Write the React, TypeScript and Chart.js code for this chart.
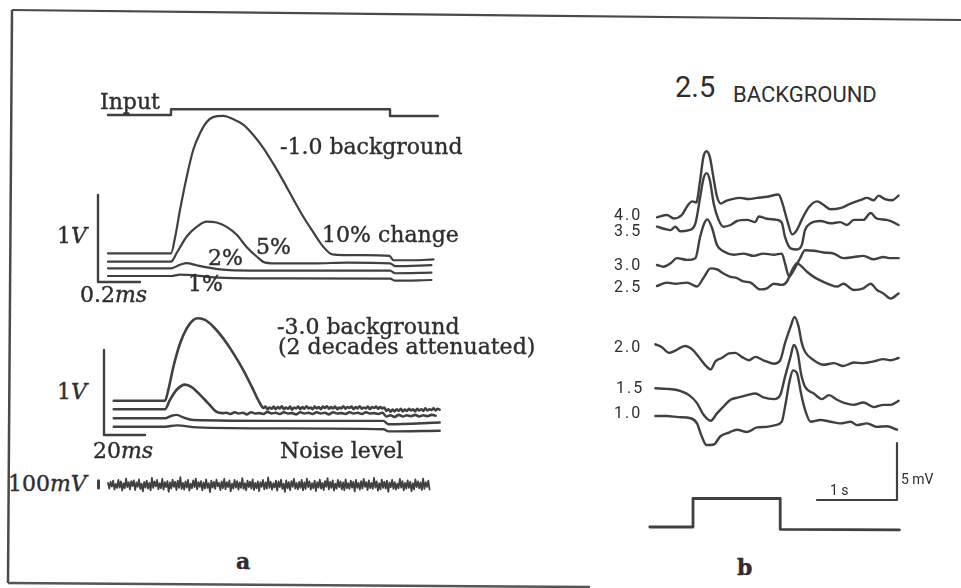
import React, { useEffect, useRef } from "react";
import { Chart, registerables } from "chart.js";
Chart.register(...registerables);

type Pt = [number, number];

// ---------------- Panel a, top: "-1.0 background" (time ms, response V) -------------
const A1_INPUT: Pt[] = [[-0.3, 0], [0, 0], [0, 0.066], [1.043, 0.066], [1.043, -0.011], [1.27, -0.011]];
const A1_T10: Pt[] = [[-0.3, 0], [0, 0], [0.02, 0.19], [0.043, 0.5], [0.075, 0.88], [0.106, 1.19], [0.138, 1.38], [0.17, 1.51], [0.2, 1.565], [0.25, 1.58], [0.297, 1.54], [0.344, 1.48], [0.392, 1.36], [0.44, 1.21], [0.487, 1.03], [0.535, 0.83], [0.583, 0.62], [0.63, 0.42], [0.678, 0.24], [0.717, 0.1], [0.757, 0.0], [0.78, -0.015], [0.84, -0.02], [0.92, -0.02], [1.04, -0.03], [1.06, -0.08], [1.15, -0.08], [1.25, -0.07]];
const A1_T5: Pt[] = [[-0.3, 0], [0, 0], [0.027, 0.1], [0.075, 0.29], [0.122, 0.4], [0.17, 0.46], [0.217, 0.45], [0.265, 0.4], [0.313, 0.31], [0.36, 0.17], [0.408, 0.06], [0.448, -0.01], [0.52, -0.02], [0.68, -0.02], [0.84, -0.01], [1.043, -0.02], [1.067, -0.05], [1.24, -0.04]];
const A1_T2: Pt[] = [[-0.3, 0], [0, 0], [0.043, 0.04], [0.075, 0.06], [0.122, 0.035], [0.2, 0], [0.28, -0.02], [0.52, -0.027], [0.84, -0.027], [1.043, -0.027], [1.067, -0.057], [1.24, -0.05]];
const A1_T1: Pt[] = [[-0.3, 0], [0, 0], [0.043, 0.015], [0.106, 0.011], [0.2, -0.015], [0.52, -0.027], [1.043, -0.03], [1.067, -0.054], [1.24, -0.046]];
const A1_BAR_MS = 0.2;
const A1_BAR_V = 1;

// ---------------- Panel a, bottom: "-3.0 background" (time ms, response V) -------------
const A3_T1: Pt[] = [[-25, 0], [0, 0], [1.6, 0.125], [4.1, 0.4], [7.3, 0.67], [10.6, 0.85], [13.8, 0.95], [16.3, 0.97], [19.5, 0.95], [23.6, 0.87], [28.5, 0.73], [33.3, 0.56], [38.2, 0.36], [42.3, 0.165], [46.3, -0.03], [48, -0.085]];
// noisy tail of the largest response, sampled every 1 ms from 49 ms
const A3_T1_TAIL_T0 = 49;
const A3_T1_TAIL_DT = 1;
const A3_T1_TAIL_V = [-0.07, -0.1, -0.08, -0.095, -0.07, -0.1, -0.075, -0.09, -0.065, -0.1, -0.08, -0.095, -0.07, -0.105, -0.08, -0.09, -0.07, -0.1, -0.075, -0.095, -0.065, -0.09, -0.08, -0.1, -0.07, -0.09, -0.075, -0.1, -0.07, -0.085, -0.065, -0.095, -0.075, -0.09, -0.07, -0.1, -0.08, -0.09, -0.065, -0.095, -0.075, -0.085, -0.07, -0.1, -0.075, -0.09, -0.065, -0.095, -0.08, -0.09, -0.07, -0.1, -0.075, -0.085, -0.07, -0.095, -0.075, -0.09, -0.08, -0.12, -0.1, -0.13, -0.105, -0.125, -0.1, -0.12, -0.095, -0.125, -0.105, -0.12, -0.095, -0.115, -0.1, -0.125, -0.095, -0.115, -0.1, -0.12, -0.09, -0.115, -0.1, -0.11, -0.09, -0.115, -0.095, -0.105];
const A3_T2: Pt[] = [[-25, 0], [0, 0], [2.4, 0.11], [5.7, 0.23], [9.8, 0.29], [13, 0.26], [17.1, 0.17], [21.1, 0.07], [25.2, -0.03], [28, -0.045]];
// noisy tail of the second response, sampled every 2 ms from 30 ms
const A3_T2_TAIL_T0 = 30;
const A3_T2_TAIL_DT = 2;
const A3_T2_TAIL_V = [-0.04, -0.055, -0.035, -0.05, -0.04, -0.06, -0.035, -0.05, -0.045, -0.055, -0.03, -0.05, -0.04, -0.055, -0.035, -0.05, -0.045, -0.06, -0.035, -0.05, -0.04, -0.055, -0.035, -0.05, -0.04, -0.06, -0.035, -0.05, -0.045, -0.055, -0.035, -0.05, -0.04, -0.055, -0.035, -0.05, -0.045, -0.055, -0.04, -0.085, -0.07, -0.09, -0.065, -0.085, -0.07, -0.08, -0.065, -0.085, -0.07, -0.08, -0.065, -0.075];
const A3_T3: Pt[] = [[-25, 0], [0, 0], [3.25, 0.03], [5.7, 0.04], [8.9, 0.01], [13.8, -0.02], [56, -0.03], [106.5, -0.03], [109, -0.07], [134, -0.05]];
const A3_T4: Pt[] = [[-25, 0], [0, 0], [5.7, 0.016], [15.4, -0.008], [56, -0.02], [106.5, -0.03], [109, -0.055], [134, -0.047]];
const A3_BAR_MS = 20;
const A3_BAR_V = 1;

// ---------------- Panel a: noise level (sampled every NOISE_DT_MS, values in mV) -------------
const NOISE_DT_MS = 0.63;
const NOISE_MV = [
  30, -50, 45, -20, 60, -65, 15, -40, 70, -35, 50, -80, 25, -45, 90, -30, 40, -60, 55, -15,
  65, -70, 35, -25, 80, -55, 20, -90, 45, -35, 60, -50, 30, -75, 100, -40, 50, -20, 70, -60,
  25, -45, 85, -65, 40, -30, 55, -95, 35, -50, 75, -25, 45, -70, 60, -40, 110, -55, 30, -65,
  50, -35, 70, -80, 20, -45, 65, -30, 90, -60, 40, -25, 55, -75, 35, -50, 80, -40, 25, -100,
  60, -35, 45, -55, 75, -20, 30, -70, 50, -45, 85, -60, 40, -30, 65, -90, 20, -50, 70, -35,
  55, -65, 35, -40, 95, -55, 25, -75, 60, -30, 45, -50, 80, -70, 30, -45, 50, -85, 40, -25,
  70, -60, 35, -50, 105, -40, 45, -65, 25, -35, 60, -80, 50, -30, 75, -55, 20, -95, 65, -45,
  40, -70, 55, -25, 85, -50, 30, -60, 45, -40, 70, -75, 35, -55, 90, -30, 50, -65, 25, -45,
  60, -85, 40, -35, 75, -50, 30, -70, 55, -25, 95, -60, 45, -40, 65, -80, 20, -50, 70, -30,
  50, -60, 35, -75, 80, -45, 25, -55, 60, -35, 45, -90, 70, -40, 30, -65, 55, -50, 85, -25,
  40, -70, 65, -45, 30, -55, 100, -35, 50, -80, 25, -60, 75, -40, 45, -50, 60, -95, 35, -30,
  70, -55, 40, -65, 20, -45, 85, -35, 55, -75, 30, -50, 65, -40, 45, -85, 25, -60, 80, -30,
  50, -45, 35, -70, 90, -55, 40, -25, 60, -65,
];
const NOISE_BAR_MV = 100;

// ---------------- Panel b: "2.5 background" (time s, response mV) -------------
const B_40: Pt[] = [[0, 0], [0.125, 0.2], [0.21, -0.1], [0.31, 0.2], [0.38, 1.0], [0.44, 1.4], [0.49, 1.3], [0.54, 3.3], [0.58, 5.3], [0.62, 5.8], [0.66, 5.3], [0.71, 3.3], [0.75, 1.8], [0.8, 1.2], [0.85, 1.4], [0.94, 1.6], [1.04, 1.7], [1.15, 1.6], [1.25, 1.7], [1.375, 1.8], [1.52, 2.0], [1.56, 1.4], [1.625, -0.2], [1.69, -1.5], [1.75, -1.1], [1.81, -0.2], [1.9, 0.9], [2.0, 1.4], [2.08, 1.1], [2.17, 0.7], [2.29, 0.8], [2.42, 1.2], [2.54, 1.5], [2.625, 1.7], [2.71, 1.5], [2.77, 1.9], [2.85, 1.6], [2.94, 1.5], [3.02, 1.9]];
const B_35: Pt[] = [[0, 0], [0.1, -0.2], [0.17, -0.3], [0.23, 0], [0.29, -0.4], [0.4, -0.3], [0.48, 0.3], [0.54, 2.6], [0.58, 4.2], [0.62, 4.7], [0.66, 4.1], [0.71, 2.0], [0.77, 0.6], [0.83, 0], [0.92, 0.15], [1.0, 0.5], [1.125, 0.6], [1.23, 0.4], [1.27, 0.9], [1.375, 0.7], [1.5, 0.6], [1.56, 0.35], [1.6, -0.9], [1.67, -1.9], [1.75, -2.0], [1.81, -1.6], [1.85, -0.3], [1.92, 0.3], [2.04, 0.5], [2.17, 0.3], [2.29, 0.4], [2.375, 0.15], [2.46, 0.6], [2.58, 0.6], [2.67, 1.2], [2.75, 0.7], [2.875, 0.6], [3.02, 0.15]];
const B_30: Pt[] = [[0, 0], [0.08, -0.15], [0.17, 0.15], [0.25, 0.6], [0.375, 0.45], [0.48, 0.6], [0.54, 2.5], [0.59, 3.65], [0.63, 4.0], [0.69, 3.2], [0.75, 1.75], [0.83, 1.2], [0.96, 0.9], [1.08, 1.0], [1.21, 0.8], [1.33, 1.0], [1.46, 0.9], [1.56, 1.0], [1.6, 0.15], [1.65, -1.0], [1.71, -0.45], [1.79, 0.6], [1.85, 1.3], [1.96, 1.25], [2.08, 1.1], [2.21, 1.0], [2.33, 0.6], [2.46, 0.7], [2.58, 0.8], [2.71, 0.5], [2.83, 0.7], [2.92, 0.6], [3.02, 0.6]];
const B_25: Pt[] = [[0, 0], [0.125, 0.3], [0.23, 0.2], [0.375, 0.3], [0.5, -0.05], [0.58, 0.7], [0.67, 1.55], [0.75, 1.45], [0.83, 1.1], [0.92, 0.8], [1.0, 0.7], [1.08, 0.4], [1.17, 0.3], [1.29, -0.3], [1.375, -0.2], [1.46, 0.2], [1.56, 0.1], [1.625, 0.4], [1.69, 1.4], [1.75, 2.0], [1.81, 1.7], [1.875, 1.25], [1.96, 0.8], [2.04, 0.5], [2.17, 0.1], [2.25, -0.05], [2.33, 0.2], [2.46, -0.35], [2.58, -0.2], [2.67, 0.2], [2.75, -0.35], [2.83, -0.65], [2.92, -1.1], [3.02, -0.65]];
const B_20: Pt[] = [[-0.02, 0], [0.06, -0.25], [0.15, -0.75], [0.23, -0.55], [0.35, -0.15], [0.44, -0.45], [0.52, -1.1], [0.6, -1.8], [0.67, -2.2], [0.73, -1.5], [0.81, -1.2], [0.9, -0.8], [0.98, -0.75], [1.06, -1.1], [1.15, -1.4], [1.23, -1.1], [1.33, -1.4], [1.46, -1.7], [1.54, -1.4], [1.6, 0.1], [1.67, 1.55], [1.72, 2.4], [1.77, 1.55], [1.81, 0.1], [1.85, -0.65], [1.96, -1.4], [2.08, -1.8], [2.21, -1.65], [2.33, -1.9], [2.46, -1.6], [2.58, -1.65], [2.71, -1.5], [2.83, -1.3], [2.92, -1.4], [3.02, -1.2]];
const B_15: Pt[] = [[-0.02, 0], [0.125, -0.05], [0.25, -0.15], [0.4, -0.6], [0.5, -1.3], [0.58, -2.3], [0.67, -2.85], [0.75, -2.2], [0.83, -1.6], [0.92, -1.0], [1.02, -0.8], [1.125, -0.6], [1.23, -0.45], [1.33, -0.8], [1.46, -0.95], [1.54, -0.6], [1.6, 1.0], [1.67, 2.8], [1.71, 3.8], [1.76, 3.05], [1.8, 1.3], [1.85, 0.15], [1.96, -0.45], [2.06, -0.95], [2.15, -0.6], [2.25, -1.0], [2.35, -1.3], [2.46, -1.45], [2.58, -1.25], [2.71, -1.65], [2.83, -1.45], [2.92, -1.45], [3.02, -1.1]];
const B_10: Pt[] = [[-0.02, 0], [0.125, 0], [0.27, -0.1], [0.42, -0.2], [0.5, -0.65], [0.56, -1.8], [0.62, -2.55], [0.71, -2.5], [0.79, -1.8], [0.9, -1.45], [1.0, -1.2], [1.125, -1.4], [1.25, -1.0], [1.375, -0.95], [1.48, -0.8], [1.56, -0.5], [1.6, 0.8], [1.66, 3.15], [1.7, 4.0], [1.75, 3.75], [1.8, 2.0], [1.85, 0.55], [1.92, -0.5], [2.04, -0.35], [2.17, -0.5], [2.29, -0.65], [2.42, -0.5], [2.5, -0.8], [2.625, -0.65], [2.75, -0.95], [2.875, -0.9], [3.0, -1.2]];
const B_STIM: Pt[] = [[-0.09, 0], [0.45, 0], [0.45, 2.5], [1.54, 2.5], [1.54, -0.2], [3.03, -0.26]];
const B_LABELS = ["4.0", "3.5", "3.0", "2.5", "2.0", "1.5", "1.0"];
const B_BAR_S = 1;
const B_BAR_MV = 5;

// ---------------- drawing helpers -------------
const INK = "#404040";
const TEXT = "#2e2e2e";

type Trace = { pts: Pt[]; base: number; lw: number; smooth: boolean };
type PanelProps = { box: [number, number, number, number]; x0: number; xPx: number; yPx: number; traces: Trace[] };

const sampled = (t0: number, dt: number, v: number[]): Pt[] => v.map((y, i) => [t0 + i * dt, y]);

function Panel({ box, x0, xPx, yPx, traces }: PanelProps) {
  const ref = useRef<HTMLCanvasElement>(null);
  const [left, top, w, h] = box;
  useEffect(() => {
    const datasets = traces.map((tr) => ({
      data: tr.pts.map(([x, y]) => ({ x, y: y - (tr.base - top) / yPx })),
      borderColor: INK,
      borderWidth: tr.lw,
      pointRadius: 0,
      fill: false,
      tension: tr.smooth ? 0.4 : 0,
      cubicInterpolationMode: tr.smooth ? "monotone" : "default",
      clip: false,
      borderCapStyle: "round",
      borderJoinStyle: "round",
    }));
    const chart = new Chart(ref.current as HTMLCanvasElement, {
      type: "line",
      data: { datasets } as any,
      options: {
        animation: false,
        responsive: false,
        maintainAspectRatio: false,
        events: [],
        layout: { padding: 0 },
        plugins: { legend: { display: false }, tooltip: { enabled: false } },
        scales: {
          x: { type: "linear", display: false, min: (left - x0) / xPx, max: (left + w - x0) / xPx },
          y: { type: "linear", display: false, min: -h / yPx, max: 0 },
        },
      } as any,
    });
    return () => chart.destroy();
  }, []);
  return <canvas ref={ref} width={w} height={h} style={{ position: "absolute", left, top, width: w, height: h }} />;
}

function Label({ x, y, size, family, bold, spacing, stroke, children }: any) {
  return (
    <div
      style={{
        position: "absolute",
        left: x,
        top: y - 0.85 * size,
        fontSize: size,
        lineHeight: 1,
        fontFamily: family,
        fontWeight: bold ? "bold" : "normal",
        letterSpacing: spacing ?? 0,
        color: TEXT,
        whiteSpace: "nowrap",
        WebkitTextStroke: stroke ? `${stroke}px ${TEXT}` : undefined,
      }}
    >
      {children}
    </div>
  );
}

const SERIF = "'DejaVu Serif', serif";
const SANS = "Roboto, 'Liberation Sans', sans-serif";

function SerifLabel(props: any) {
  return <Label size={22} family={SERIF} stroke={0.4} {...props} />;
}

export default function App() {
  // panel a top layout
  const a1 = { box: [90, 95, 360, 200] as [number, number, number, number], x0: 171, xPx: 210, yPx: 87 };
  const a1BarT = (98 - a1.x0) / a1.xPx;
  const a1Traces: Trace[] = [
    { pts: A1_INPUT, base: 115, lw: 2.4, smooth: false },
    { pts: A1_T10, base: 253.3, lw: 2.2, smooth: true },
    { pts: A1_T5, base: 261.7, lw: 2.2, smooth: true },
    { pts: A1_T2, base: 268.3, lw: 2.2, smooth: true },
    { pts: A1_T1, base: 276, lw: 2.2, smooth: true },
    { pts: [[a1BarT, A1_BAR_V], [a1BarT, 0], [a1BarT + A1_BAR_MS, 0]], base: 282, lw: 2.4, smooth: false },
  ];

  // panel a bottom layout
  const a3 = { box: [95, 305, 355, 140] as [number, number, number, number], x0: 165, xPx: 2.05, yPx: 85 };
  const a3BarT = (104 - a3.x0) / a3.xPx;
  const a3Traces: Trace[] = [
    { pts: [...A3_T1, ...sampled(A3_T1_TAIL_T0, A3_T1_TAIL_DT, A3_T1_TAIL_V)], base: 400.7, lw: 2.6, smooth: true },
    { pts: [...A3_T2, ...sampled(A3_T2_TAIL_T0, A3_T2_TAIL_DT, A3_T2_TAIL_V)], base: 409.3, lw: 2.6, smooth: true },
    { pts: A3_T3, base: 418.3, lw: 2.4, smooth: true },
    { pts: A3_T4, base: 426.7, lw: 2.4, smooth: true },
    { pts: [[a3BarT, A3_BAR_V], [a3BarT, 0], [a3BarT + A3_BAR_MS, 0]], base: 435, lw: 2.4, smooth: false },
  ];

  // noise layout
  const nz = { box: [90, 462, 355, 46] as [number, number, number, number], x0: 108, xPx: 2.05, yPx: 1 / 14 };
  const nzBarT = (98.5 - nz.x0) / nz.xPx;
  const nzTraces: Trace[] = [
    { pts: sampled(0, NOISE_DT_MS, NOISE_MV), base: 485, lw: 1.8, smooth: false },
    { pts: [[nzBarT, 0], [nzBarT, NOISE_BAR_MV]], base: 488, lw: 3, smooth: false },
  ];

  // panel b layout
  const b = { box: [640, 130, 285, 420] as [number, number, number, number], x0: 657, xPx: 80, yPx: 11.4 };
  const bBarT = (897 - b.x0) / b.xPx;
  const bBases = [217.3, 226.7, 265, 286, 344.3, 388.3, 416];
  const bData = [B_40, B_35, B_30, B_25, B_20, B_15, B_10];
  const bTraces: Trace[] = [
    ...bData.map((pts, i) => ({ pts, base: bBases[i], lw: 2.4, smooth: true })),
    { pts: B_STIM, base: 527, lw: 2.8, smooth: false },
    { pts: [[bBarT - B_BAR_S, 0], [bBarT, 0], [bBarT, B_BAR_MV]], base: 500, lw: 2.2, smooth: false },
  ];
  const bLabelPos: [number, number][] = [[614, 221], [614, 237], [614, 271], [614, 293], [614, 353], [616, 394], [614, 419]];

  return (
    <div style={{ position: "absolute", left: 0, top: 0, width: 961, height: 588, overflow: "hidden", background: "#fff" }}>
      <svg width={961} height={588} style={{ position: "absolute", left: 0, top: 0 }}>
        <polyline points="12,10 761,18 961,20" stroke="#4a4a4a" strokeWidth={2.2} fill="none" />
        <line x1={12} y1={10} x2={8} y2={583} stroke="#4a4a4a" strokeWidth={2.5} />
        <line x1={8} y1={583} x2={590} y2={587} stroke="#555" strokeWidth={2.5} />
      </svg>

      <Panel {...a1} traces={a1Traces} />
      <Panel {...a3} traces={a3Traces} />
      <Panel {...nz} traces={nzTraces} />
      <Panel {...b} traces={bTraces} />

      {/* panel a text */}
      <SerifLabel x={100} y={110}>Input</SerifLabel>
      <SerifLabel x={280} y={155}>-1.0 background</SerifLabel>
      <SerifLabel x={322} y={243}>10% change</SerifLabel>
      <SerifLabel x={256} y={255}>5%</SerifLabel>
      <SerifLabel x={208} y={266}>2%</SerifLabel>
      <SerifLabel x={188} y={292}>1%</SerifLabel>
      <SerifLabel x={57} y={244}>1<i>V</i></SerifLabel>
      <SerifLabel x={80} y={303}>0.2<i>ms</i></SerifLabel>
      <SerifLabel x={277} y={335}>-3.0 background</SerifLabel>
      <SerifLabel x={278} y={355}>(2 decades attenuated)</SerifLabel>
      <SerifLabel x={57} y={400}>1<i>V</i></SerifLabel>
      <SerifLabel x={93} y={459}>20<i>ms</i></SerifLabel>
      <SerifLabel x={280} y={459}>Noise level</SerifLabel>
      <SerifLabel x={8} y={492}>100<i>mV</i></SerifLabel>
      <SerifLabel x={236} y={569} bold>a</SerifLabel>

      {/* panel b text */}
      <Label x={675} y={98} size={29} family={SANS}>2.5</Label>
      <Label x={733} y={103} size={22} family={SANS}>BACKGROUND</Label>
      {B_LABELS.map((t, i) => (
        <Label key={t} x={bLabelPos[i][0]} y={bLabelPos[i][1]} size={16} family={SANS} spacing={2}>{t}</Label>
      ))}
      <Label x={830} y={495} size={14} family={SANS}>1 s</Label>
      <Label x={901} y={484} size={14} family={SANS}>5 mV</Label>
      <SerifLabel x={737} y={575} bold>b</SerifLabel>
    </div>
  );
}
